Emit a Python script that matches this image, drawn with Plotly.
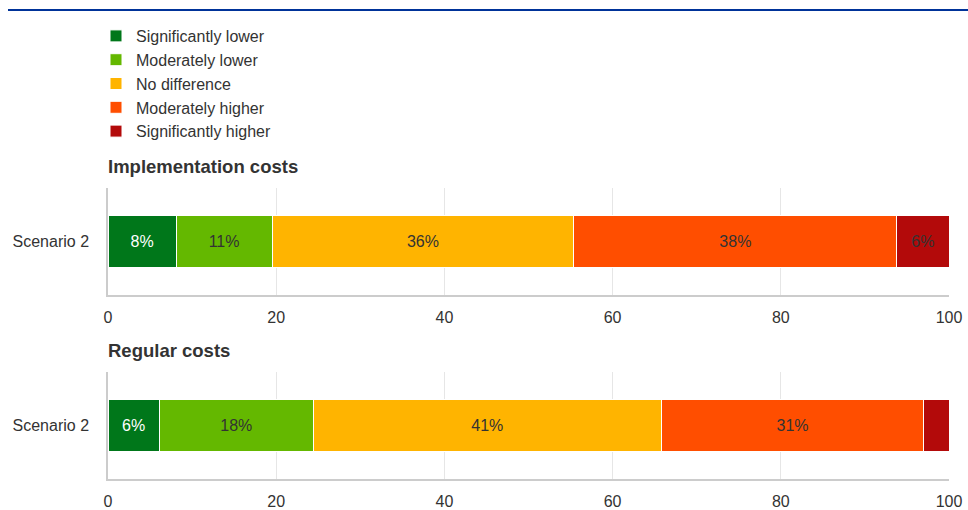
import plotly.graph_objects as go

categories = ["Significantly lower", "Moderately lower", "No difference",
              "Moderately higher", "Significantly higher"]
colors = ["#00771a", "#64b800", "#ffb400", "#ff4e00", "#b30a0a"]
scenario = ["Scenario 2"]
implementation = [8.1, 11.4, 35.9, 38.4, 6.2]
regular = [6.1, 18.3, 41.4, 31.2, 3.0]
panel_titles = ["Implementation costs", "Regular costs"]
x_ticks = [0, 20, 40, 60, 80, 100]

W, H = 968, 510
FONT = "Liberation Sans, Arial, sans-serif"
FS = 16

fig = go.Figure()
for si, series in enumerate([implementation, regular]):
    for ci, (cat, val) in enumerate(zip(categories, series)):
        fig.add_trace(go.Bar(
            x=[val], y=scenario, orientation="h", name=cat,
            legendgroup=cat, showlegend=(si == 0),
            marker=dict(color=colors[ci], line=dict(color="white", width=1)),
            text=[f"{round(val)}%"], textposition="inside",
            insidetextanchor="middle", textangle=0,
            textfont=dict(color="white" if ci == 0 else "#333333", size=FS, family=FONT),
            width=0.49,
            xaxis="x" if si == 0 else "x2", yaxis="y" if si == 0 else "y2",
            hoverinfo="skip",
        ))

def py(px):
    return 1 - px / H

xdom = [108 / W, 949 / W]
axis_common = dict(
    range=[0, 100], tickvals=x_ticks, showgrid=True, gridcolor="#e6e6e6",
    showline=True, linecolor="#cccccc", linewidth=1.5, zeroline=False,
    ticks="outside", ticklen=7, tickcolor="rgba(0,0,0,0)", automargin=False,
    tickfont=dict(size=FS, color="#333333", family=FONT), fixedrange=True,
)
yaxis_common = dict(
    showline=True, linecolor="#cccccc", linewidth=1.5, showgrid=False,
    ticks="outside", ticklen=14, tickcolor="rgba(0,0,0,0)", automargin=False,
    tickfont=dict(size=FS, color="#333333", family=FONT), range=[-0.5, 0.5],
    fixedrange=True,
)

fig.update_layout(
    width=W, height=H, barmode="stack",
    margin=dict(l=0, r=0, t=0, b=0),
    paper_bgcolor="white", plot_bgcolor="white",
    font=dict(family=FONT, color="#333333"),
    xaxis=dict(domain=xdom, anchor="y", **axis_common),
    yaxis=dict(domain=[py(295), py(188)], anchor="x", **yaxis_common),
    xaxis2=dict(domain=xdom, anchor="y2", **axis_common),
    yaxis2=dict(domain=[py(479), py(372)], anchor="x2", **yaxis_common),
    legend=dict(x=96 / W, y=py(19), xanchor="left", yanchor="top",
                traceorder="normal", tracegroupgap=7,
                font=dict(size=FS, color="#333333", family=FONT),
                bgcolor="rgba(0,0,0,0)"),
    uniformtext=dict(minsize=FS, mode="hide"),
    shapes=[dict(type="line", xref="paper", yref="paper", x0=8 / W, x1=1,
                 y0=py(10), y1=py(10), line=dict(color="#003399", width=2))],
    annotations=[
        dict(text=f"<b>{panel_titles[0]}</b>", xref="paper", yref="paper",
             x=106 / W, y=py(167), xanchor="left", yanchor="middle",
             showarrow=False, font=dict(size=18.5, color="#333333", family=FONT)),
        dict(text=f"<b>{panel_titles[1]}</b>", xref="paper", yref="paper",
             x=106 / W, y=py(350), xanchor="left", yanchor="middle",
             showarrow=False, font=dict(size=18.5, color="#333333", family=FONT)),
    ],
)

fig.write_html("out.html", config={"displayModeBar": False},
               post_script="document.body.style.margin='0';document.body.style.overflow='hidden';")
